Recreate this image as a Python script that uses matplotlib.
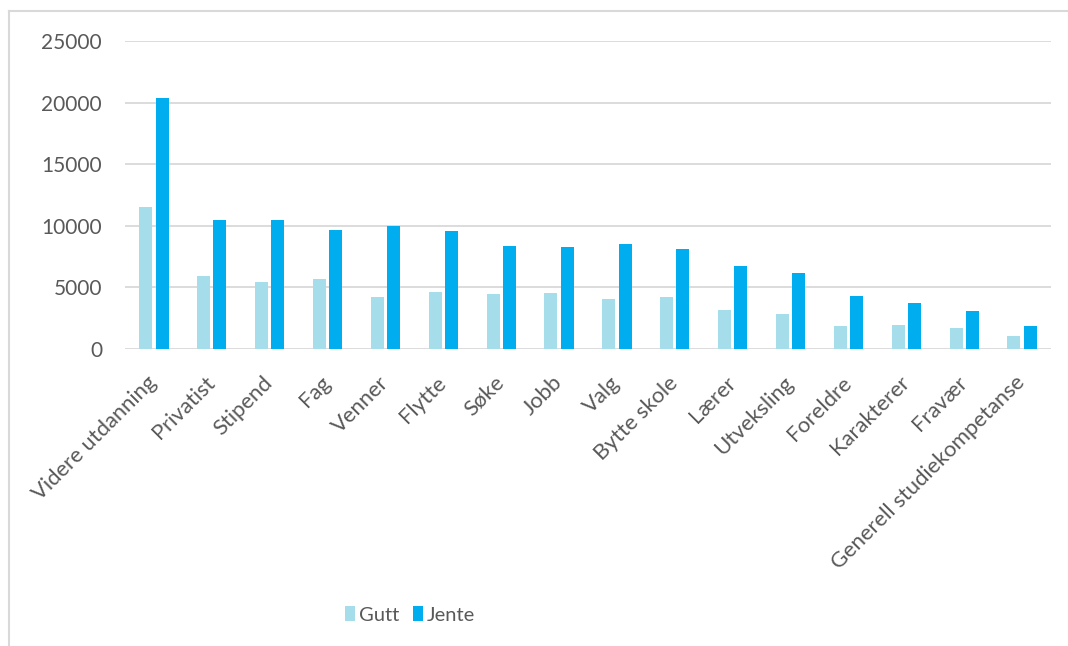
import numpy as np
import matplotlib
matplotlib.use("Agg")
import matplotlib.pyplot as plt
from matplotlib.lines import Line2D

# kategorier og verdier (lest av fra figuren)
kategorier = ["Videre utdanning", "Privatist", "Stipend", "Fag", "Venner", "Flytte",
              "Søke", "Jobb", "Valg", "Bytte skole", "Lærer", "Utveksling",
              "Foreldre", "Karakterer", "Fravær", "Generell studiekompetanse"]
gutt = [11500, 5950, 5400, 5650, 4250, 4650, 4450, 4550,
        4050, 4250, 3200, 2850, 1900, 1950, 1700, 1050]
jente = [20400, 10450, 10500, 9650, 9950, 9550, 8400, 8250,
         8550, 8100, 6700, 6200, 4300, 3700, 3050, 1850]
yticks = [0, 5000, 10000, 15000, 20000, 25000]

GUTT_FARGE = "#A5DEEA"
JENTE_FARGE = "#00ADEE"
TEKST = "#595959"
GRID = "#D9D9D9"

plt.rcParams['font.family'] = ['Lato', 'DejaVu Sans']

fig = plt.figure(figsize=(10.68, 6.46), dpi=100)
ax = fig.add_axes([125/1068, 1-349/646, (1051-125)/1068, (349-41)/646])

x = np.arange(len(kategorier))
w = 0.225
ax.bar(x - 0.14, gutt, width=w, color=GUTT_FARGE, label="Gutt", zorder=3)
ax.bar(x + 0.14, jente, width=w, color=JENTE_FARGE, label="Jente", zorder=3)

ax.set_xlim(-0.5, len(kategorier) - 0.5)
ax.set_ylim(0, 25000)
ax.set_yticks(yticks)
ax.set_yticklabels([str(v) for v in yticks], fontsize=15, color=TEKST)
ax.yaxis.grid(True, color=GRID, linewidth=1.3, zorder=0)
ax.tick_params(axis="y", length=0, pad=16.5)
ax.tick_params(axis="x", length=0, pad=22)

ax.set_xticks(x)
ax.set_xticklabels(kategorier, rotation=45, ha="right", va="center",
                   rotation_mode="anchor", fontsize=15.8, color=TEKST)

for s in ax.spines.values():
    s.set_visible(False)

# rammen rundt diagrammet (bare venstre og øverste kant synlig)
fig.add_artist(Line2D([9/1068, 9/1068], [0, 1-11/646], color=GRID, lw=1.5))
fig.add_artist(Line2D([9/1068, 1], [1-11/646, 1-11/646], color=GRID, lw=1.5))

leg = fig.legend(loc="center", bbox_to_anchor=(410/1068, 1-615/646), ncol=2,
                 frameon=False, fontsize=14.5, handlelength=0.5, handleheight=0.75,
                 handletextpad=0.2, columnspacing=0.7, labelcolor=TEKST)

fig.savefig("out.png", dpi=100, facecolor="white")
